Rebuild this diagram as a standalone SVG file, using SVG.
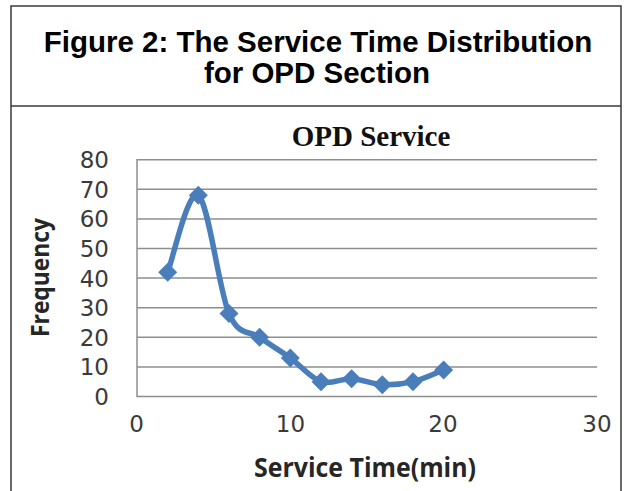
<svg xmlns="http://www.w3.org/2000/svg" xmlns:xlink="http://www.w3.org/1999/xlink" width="624" height="491" viewBox="0 0 624 491">
  <style>
    .frame { fill: none; stroke: #3a3a3a; stroke-width: 1.5; }
    .title { font-family: "Liberation Sans", Arial, sans-serif; font-weight: bold; font-size: 29.5px; fill: #000; text-anchor: middle; }
    .ctitle { font-family: "Liberation Serif", "Times New Roman", serif; font-weight: bold; font-size: 29px; fill: #111; text-anchor: middle; }
    .grid { stroke: #8e8e8e; stroke-width: 1.5; fill: none; }
    .tick { font-family: "DejaVu Sans", "Open Sans", sans-serif; font-size: 23px; fill: #3a3a3a; }
    .ytick { text-anchor: end; }
    .xtick { text-anchor: middle; }
    .axtitle { font-family: "Open Sans", "DejaVu Sans", sans-serif; font-weight: bold; font-size: 25px; fill: #262626; text-anchor: middle; }
    .series { fill: none; stroke: #4a7ebb; stroke-width: 5.5; stroke-linejoin: round; stroke-linecap: round; }
    .marker { fill: #4a7ebb; }
  </style>
  <defs>
    <path id="diamond" d="M0,-9.5 L9.5,0 L0,9.5 L-9.5,0 Z"/>
  </defs>
  <rect width="624" height="491" fill="#ffffff"/>

  <g id="frame">
    <rect class="frame" x="11" y="6" width="610" height="500"/>
    <line class="frame" x1="11" y1="106" x2="621" y2="106"/>
  </g>

  <g id="figure-title">
    <text class="title" x="318" y="52">Figure 2: The Service Time Distribution</text>
    <text class="title" x="317" y="83">for OPD Section</text>
  </g>

  <g id="chart-title">
    <text class="ctitle" x="371" y="145.5">OPD Service</text>
  </g>

  <g id="gridlines">
    <line class="grid" x1="137" y1="159.7" x2="597" y2="159.7"/>
    <line class="grid" x1="137" y1="189.3" x2="597" y2="189.3"/>
    <line class="grid" x1="137" y1="218.9" x2="597" y2="218.9"/>
    <line class="grid" x1="137" y1="248.5" x2="597" y2="248.5"/>
    <line class="grid" x1="137" y1="278.1" x2="597" y2="278.1"/>
    <line class="grid" x1="137" y1="307.7" x2="597" y2="307.7"/>
    <line class="grid" x1="137" y1="337.3" x2="597" y2="337.3"/>
    <line class="grid" x1="137" y1="366.9" x2="597" y2="366.9"/>
    <line class="grid" x1="137" y1="396.5" x2="597" y2="396.5"/>
    <line class="grid" x1="137" y1="159" x2="137" y2="397.2"/>
  </g>

  <g id="y-axis">
    <text class="tick ytick" x="109" y="168.1">80</text>
    <text class="tick ytick" x="109" y="197.7">70</text>
    <text class="tick ytick" x="109" y="227.3">60</text>
    <text class="tick ytick" x="109" y="256.9">50</text>
    <text class="tick ytick" x="109" y="286.5">40</text>
    <text class="tick ytick" x="109" y="316.1">30</text>
    <text class="tick ytick" x="109" y="345.7">20</text>
    <text class="tick ytick" x="109" y="375.3">10</text>
    <text class="tick ytick" x="109" y="404.9">0</text>
    <text class="axtitle" transform="translate(48.5,277.5) rotate(-90)" x="0" y="0" textLength="119" lengthAdjust="spacingAndGlyphs">Frequency</text>
  </g>

  <g id="x-axis">
    <text class="tick xtick" x="136.5" y="432">0</text>
    <text class="tick xtick" x="290.5" y="432">10</text>
    <text class="tick xtick" x="443" y="432">20</text>
    <text class="tick xtick" x="597" y="432">30</text>
    <text class="axtitle" x="365" y="477" style="font-size:26px" textLength="222" lengthAdjust="spacingAndGlyphs">Service Time(min)</text>
  </g>

  <g id="series-line">
    <path class="series" d="M167.7,272.2 C172.8,259.4 188.1,188.3 198.3,195.2 C208.5,202.1 218.8,289.9 229,313.6 C239.2,337.3 249.4,329.9 259.6,337.3 C269.8,344.7 280.1,350.6 290.3,358 C300.5,365.4 310.8,378.25 321,381.7 C331.2,385.15 341.4,378.2 351.6,378.7 C361.8,379.2 372.1,384.2 382.3,384.7 C392.5,385.2 402.8,384.2 413,381.7 C423.2,379.2 438.5,371.9 443.6,369.9"/>
  </g>

  <g id="series-markers">
    <use xlink:href="#diamond" class="marker" x="167.7" y="272.2"/>
    <use xlink:href="#diamond" class="marker" x="198.3" y="195.2"/>
    <use xlink:href="#diamond" class="marker" x="229" y="313.6"/>
    <use xlink:href="#diamond" class="marker" x="259.6" y="337.3"/>
    <use xlink:href="#diamond" class="marker" x="290.3" y="358"/>
    <use xlink:href="#diamond" class="marker" x="321" y="381.7"/>
    <use xlink:href="#diamond" class="marker" x="351.6" y="378.7"/>
    <use xlink:href="#diamond" class="marker" x="382.3" y="384.7"/>
    <use xlink:href="#diamond" class="marker" x="413" y="381.7"/>
    <use xlink:href="#diamond" class="marker" x="443.6" y="369.9"/>
  </g>
</svg>
